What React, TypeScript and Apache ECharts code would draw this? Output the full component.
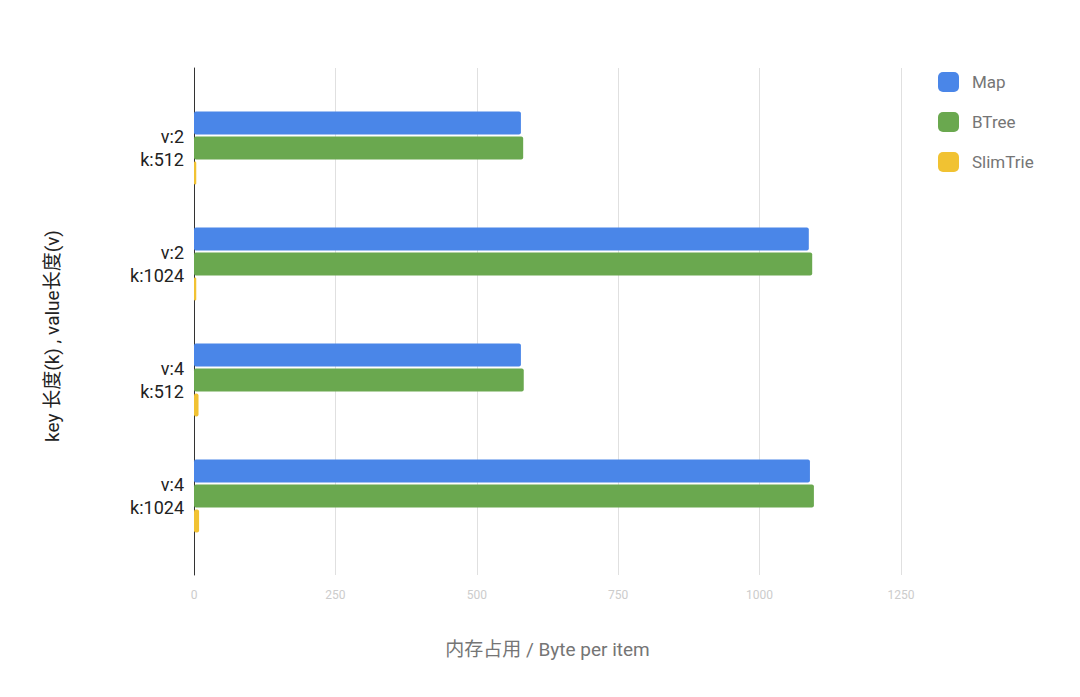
import React, { useEffect, useRef } from "react";
import * as echarts from "echarts";

const categories = ["v:2\nk:512", "v:2\nk:1024", "v:4\nk:512", "v:4\nk:1024"];
const mapValues = [578, 1087, 578, 1089];
const btreeValues = [582, 1093, 583, 1096];
const slimTrieValues = [4, 4, 8, 9];
const seriesNames = ["Map", "BTree", "SlimTrie"];
const colors = ["#4a86e8", "#6aa84f", "#f1c232"];
const xMin = 0;
const xMax = 1250;
const xInterval = 250;

export default function App() {
  const ref = useRef<HTMLDivElement>(null);
  useEffect(() => {
    if (!ref.current) return;
    const chart = echarts.init(ref.current, null, { renderer: "svg" });
    const font = "Roboto, 'Noto Sans CJK SC', sans-serif";
    const barCommon = {
      type: "bar" as const,
      xAxisIndex: 1,
      yAxisIndex: 1,
      barWidth: 23,
      barGap: "9%",
      itemStyle: { borderRadius: 2 },
    };
    chart.setOption({
      animation: false,
      textStyle: { fontFamily: font },
      color: colors,
      grid: [
        { left: 194, right: 179, top: 68, bottom: 122 },
        { left: 194, right: 179, top: 90, bottom: 143 },
      ],
      legend: {
        data: seriesNames,
        orient: "vertical",
        left: 938,
        top: 72,
        padding: 0,
        itemWidth: 21,
        itemHeight: 20,
        itemGap: 20,
        icon: "roundRect",
        textStyle: { color: "#757575", fontSize: 17, fontFamily: font, padding: [0, 0, 0, 8] },
      },
      xAxis: [
        {
          type: "value",
          gridIndex: 0,
          min: xMin,
          max: xMax,
          interval: xInterval,
          axisLine: { show: false },
          axisTick: { show: false },
          axisLabel: {
            color: "#cccccc",
            fontSize: 12,
            margin: 14,
            formatter: (v: number) => String(v),
          },
          splitLine: { lineStyle: { color: "#e0e0e0", width: 1 } },
          name: "内存占用 / Byte per item",
          nameLocation: "middle",
          nameGap: 65,
          nameTextStyle: { color: "#757575", fontSize: 19 },
        },
        {
          type: "value",
          gridIndex: 1,
          min: xMin,
          max: xMax,
          show: false,
        },
      ],
      yAxis: [
        {
          type: "value",
          gridIndex: 0,
          min: 0,
          max: 1,
          axisLine: { show: true, lineStyle: { color: "#333333", width: 1 } },
          axisTick: { show: false },
          axisLabel: { show: false },
          splitLine: { show: false },
        },
        {
          type: "category",
          gridIndex: 1,
          data: categories,
          inverse: true,
          axisLine: { show: false },
          axisTick: { show: false },
          axisLabel: {
            color: "#222222",
            fontSize: 18,
            lineHeight: 23,
            margin: 10,
            align: "right",
          },
          name: "key 长度(k) , value长度(v)",
          nameLocation: "middle",
          nameGap: 132,
          nameTextStyle: { color: "#222222", fontSize: 19, padding: [0, 28, 0, 0] },
        },
      ],
      series: [
        { ...barCommon, name: seriesNames[0], data: mapValues },
        { ...barCommon, name: seriesNames[1], data: btreeValues },
        { ...barCommon, name: seriesNames[2], data: slimTrieValues },
      ],
    });
    return () => chart.dispose();
  }, []);
  return (
    <div
      ref={ref}
      style={{ position: "fixed", left: 0, top: 0, width: 1080, height: 697, background: "#ffffff" }}
    />
  );
}
